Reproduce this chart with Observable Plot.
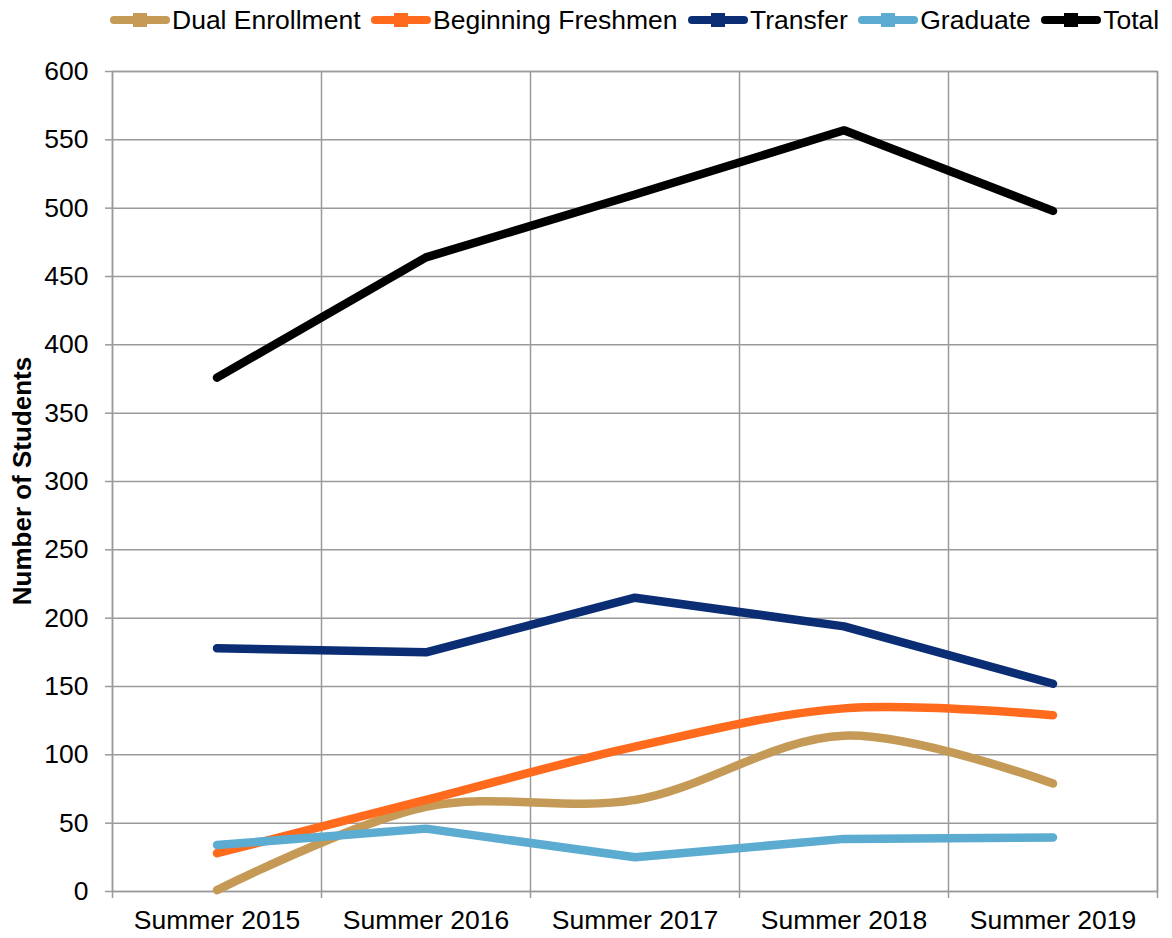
<!DOCTYPE html>
<html>
<head>
<meta charset="utf-8">
<script src="https://cdn.jsdelivr.net/npm/d3@7"></script>
<script src="https://cdn.jsdelivr.net/npm/@observablehq/plot@0.6"></script>
<style>
  html, body { margin: 0; padding: 0; background: #fff; }
  body { font-family: "Liberation Sans", Arial, sans-serif; width: 1172px; height: 938px; position: relative; overflow: hidden; }
  #legend { height: 40px; display: flex; align-items: center; padding-left: 109px; box-sizing: border-box; font-size: 26.5px; color: #000; white-space: nowrap; }
  .item { display: flex; align-items: center; margin-right: 9.5px; }
  .item svg { display: block; margin-right: 1px; }
  #ylabel { position: absolute; left: 22px; top: 481px; transform: translate(-50%, -50%) rotate(-90deg); font-weight: bold; font-size: 26px; white-space: nowrap; color: #000; }
  #chart svg { display: block; }
</style>
</head>
<body>
<div id="legend"></div>
<div id="chart"></div>
<div id="ylabel">Number of Students</div>
<script>
const categories = ["Summer 2015", "Summer 2016", "Summer 2017", "Summer 2018", "Summer 2019"];
const seriesNames = ["Dual Enrollment", "Beginning Freshmen", "Transfer", "Graduate", "Total"];
const seriesColors = ["#C49A56", "#FF6A1C", "#0B2D73", "#5BACD0", "#000000"];
const smoothSeries = ["Dual Enrollment", "Beginning Freshmen"];

const dualEnrollment    = [1, 62, 67, 114, 79];
const beginningFreshmen = [28, 67, 106, 134, 129];
const transfer          = [178, 175, 215, 194, 152];
const graduate          = [34, 46, 25, 38.5, 39.5];
const total             = [376, 464, 510, 557, 498];

const yTicks = [0, 50, 100, 150, 200, 250, 300, 350, 400, 450, 500, 550, 600];

const seriesValues = [dualEnrollment, beginningFreshmen, transfer, graduate, total];
const rows = [];
seriesNames.forEach((s, i) => categories.forEach((c, j) => rows.push({series: s, category: c, value: seriesValues[i][j]})));

// Legend
const legend = document.getElementById("legend");
seriesNames.forEach((s, i) => {
  const item = document.createElement("div");
  item.className = "item";
  item.innerHTML = `<svg width="62" height="20"><line x1="5" y1="10" x2="57" y2="10" stroke="${seriesColors[i]}" stroke-width="8" stroke-linecap="round"/><rect x="24" y="3" width="14" height="14" fill="${seriesColors[i]}"/></svg><span>${s}</span>`;
  legend.appendChild(item);
});

const width = 1172, height = 898;
const marginLeft = 112, marginRight = 15, marginTop = 31, marginBottom = 47;
const bw = (width - marginLeft - marginRight) / categories.length;
const gridColor = "#9a9a9a";

const marks = [
  Plot.ruleY(yTicks, {y: d => d, stroke: gridColor, strokeWidth: 1.5}),
  Plot.ruleX(categories, {x: d => d, dx: -bw / 2, stroke: gridColor, strokeWidth: 1.5, insetBottom: -7}),
  Plot.ruleX([categories[categories.length - 1]], {x: d => d, dx: bw / 2, stroke: gridColor, strokeWidth: 1.5, insetBottom: -7}),
  Plot.frame({stroke: gridColor, strokeWidth: 1.5}),
  Plot.axisY({ticks: yTicks, tickSize: 7, tickPadding: 17, stroke: gridColor, strokeWidth: 1.5, fontSize: 26.5, label: null, tickFormat: d => String(d)}),
  Plot.axisX({tickSize: 0, tickPadding: 19, fontSize: 26.5, label: null})
];
seriesNames.forEach(s => {
  marks.push(Plot.lineY(rows.filter(r => r.series === s), {
    x: "category", y: "value", stroke: "series",
    strokeWidth: 8.5, strokeLinecap: "round", strokeLinejoin: "miter",
    curve: smoothSeries.includes(s) ? "catmull-rom" : "linear"
  }));
});

const chart = Plot.plot({
  width, height, marginLeft, marginRight, marginTop, marginBottom,
  style: {fontFamily: "'Liberation Sans', Arial, sans-serif", fontSize: "26.5px", color: "#000", background: "#fff"},
  x: {type: "band", domain: categories, padding: 0},
  y: {domain: [0, 600]},
  color: {domain: seriesNames, range: seriesColors},
  marks
});
document.getElementById("chart").appendChild(chart);
</script>
</body>
</html>
